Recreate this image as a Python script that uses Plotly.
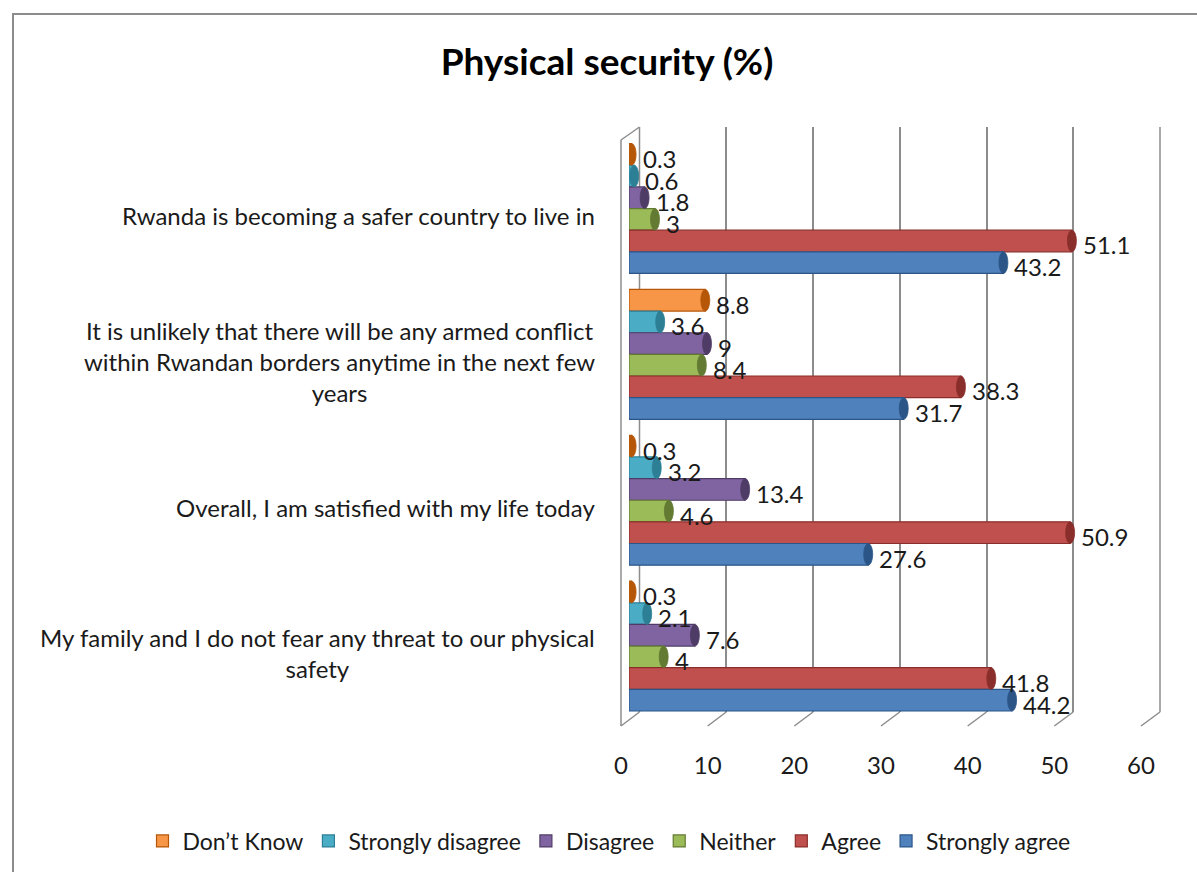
import plotly.graph_objects as go

# ---- data -------------------------------------------------------------
statements = [
    "Rwanda is becoming a safer country to live in",
    "It is unlikely that there will be any armed conflict<br>within Rwandan borders anytime in the next few<br>years",
    "Overall, I am satisfied with my life today",
    "My family and I do not fear any threat to our physical<br>safety",
]
series_names = ["Don\u2019t Know", "Strongly disagree", "Disagree", "Neither", "Agree", "Strongly agree"]
dont_know = [0.3, 8.8, 0.3, 0.3]
strongly_disagree = [0.6, 3.6, 3.2, 2.1]
disagree = [1.8, 9, 13.4, 7.6]
neither = [3, 8.4, 4.6, 4]
agree = [51.1, 38.3, 50.9, 41.8]
strongly_agree = [43.2, 31.7, 27.6, 44.2]
x_ticks = [0, 10, 20, 30, 40, 50, 60]

series_values = [dont_know, strongly_disagree, disagree, neither, agree, strongly_agree]
series_colors = ["#F79646", "#4BACC6", "#8064A2", "#9BBB59", "#C0504D", "#4F81BD"]
edge_colors = ["#B65708", "#2C7F95", "#4F3C66", "#637A33", "#8A2E2B", "#2B5587"]

# ---- canvas helpers (pixels -> paper fractions) ------------------------
W, H = 1197, 872
FONT = "Lato"
TXT = "#1a1a1a"


def px(x):
    return x / W


def py(y):
    return 1 - y / H


BAR_GAP = 0.11
n_series = len(series_values)
cat_index = list(range(len(statements)))

# bar value axis: pixel span used for the bars
BAR_X0, BAR_X60 = 629, 1149
CAP_HALF = 4.5 * (x_ticks[-1] - x_ticks[0]) / (BAR_X60 - BAR_X0)   # half cap width, data units

fig = go.Figure()

# back wall of the 3-D box: carries the vertical gridlines
fig.add_trace(go.Scatter(x=[x_ticks[0], x_ticks[-1]], y=[0.5, 0.5], xaxis="x", yaxis="y",
                         mode="markers", marker=dict(size=0, opacity=0),
                         hoverinfo="skip", showlegend=False))

# the bars themselves
for name, vals, col, edge in zip(series_names, series_values, series_colors, edge_colors):
    fig.add_trace(go.Bar(
        name=name, x=vals, y=cat_index, orientation="h",
        xaxis="x2", yaxis="y2",
        marker=dict(color=col, line=dict(color=edge, width=1.2)),
        hovertemplate="%{x}<extra>" + name + "</extra>",
    ))

# front edge of the floor: carries the value tick labels
fig.add_trace(go.Scatter(x=[x_ticks[0], x_ticks[-1]], y=[0.5, 0.5], xaxis="x3", yaxis="y",
                         mode="markers", marker=dict(size=0, opacity=0),
                         hoverinfo="skip", showlegend=False))

annotations = []
shapes = []
slot = (1 - BAR_GAP) / n_series
for k, (vals, edge) in enumerate(zip(series_values, edge_colors)):
    off = -(1 - BAR_GAP) / 2 + (k + 0.5) * slot
    for i, v in enumerate(vals):
        # rounded cylinder end cap
        shapes.append(dict(
            type="circle", xref="x2", yref="y2",
            x0=v - CAP_HALF, x1=v + CAP_HALF,
            y0=i + off - slot / 2, y1=i + off + slot / 2,
            fillcolor=edge, line=dict(color=edge, width=0.8), layer="above"))
        # value label
        annotations.append(dict(
            x=v, y=i + off, xref="x2", yref="y2", text=f"{v:g}",
            showarrow=False, xanchor="left", yanchor="middle",
            xshift=9, yshift=-4, font=dict(family=FONT, size=24, color=TXT),
        ))

# statement labels to the left of the box
for i, s in enumerate(statements):
    annotations.append(dict(
        x=px(597), y=i, xref="paper", yref="y2", text=s, showarrow=False,
        xanchor="right", yanchor="middle", align="center", yshift=-7,
        font=dict(family=FONT, size=24, color=TXT),
    ))

# ---- box geometry (front floor edge, back wall) -----------------------
FRONT_L, FRONT_R, FRONT_Y = 621, 1141, 726
BACK_L, BACK_R, BACK_Y, BACK_TOP = 639.5, 1160, 712, 127
WALL_FRONT_TOP = 140
line_style = dict(color="#8c8c8c", width=1.5)

shapes += [
    # chart frame
    dict(type="rect", xref="paper", yref="paper", x0=px(13), y0=-0.02, x1=1.02, y1=py(14),
         line=dict(color="#8c8c8c", width=2), layer="below"),
    # left wall: front edge and top edge
    dict(type="line", xref="paper", yref="paper", x0=px(FRONT_L), y0=py(FRONT_Y),
         x1=px(FRONT_L), y1=py(WALL_FRONT_TOP), line=line_style, layer="below"),
    dict(type="line", xref="paper", yref="paper", x0=px(FRONT_L), y0=py(WALL_FRONT_TOP),
         x1=px(BACK_L), y1=py(BACK_TOP), line=line_style, layer="below"),
    # back wall edges at both ends of the value range
    dict(type="line", xref="paper", yref="paper", x0=px(BACK_L), y0=py(BACK_Y),
         x1=px(BACK_L), y1=py(BACK_TOP), line=line_style, layer="below"),
    dict(type="line", xref="paper", yref="paper", x0=px(BACK_R), y0=py(BACK_Y),
         x1=px(BACK_R), y1=py(BACK_TOP), line=line_style, layer="below"),
]
# floor ticks running from the front edge back to the wall
span = x_ticks[-1] - x_ticks[0]
for t in x_ticks:
    f = (t - x_ticks[0]) / span
    shapes.append(dict(
        type="line", xref="paper", yref="paper",
        x0=px(FRONT_L + f * (FRONT_R - FRONT_L)), y0=py(FRONT_Y),
        x1=px(BACK_L + f * (BACK_R - BACK_L)), y1=py(BACK_Y),
        line=line_style, layer="below"))

fig.update_layout(
    width=W, height=H,
    margin=dict(l=0, r=0, t=0, b=0, autoexpand=False),
    paper_bgcolor="white", plot_bgcolor="rgba(0,0,0,0)",
    barmode="group", bargap=BAR_GAP, bargroupgap=0,
    title=dict(text="<b>Physical security (%)</b>", x=px(607), y=py(62),
               xanchor="center", yanchor="middle",
               font=dict(family=FONT, size=37, color="#000000")),
    xaxis=dict(domain=[px(BACK_L), px(BACK_R)], range=[x_ticks[0], x_ticks[-1]],
               tickvals=x_ticks, showgrid=True, gridcolor="#8c8c8c", gridwidth=1.5,
               zeroline=False, showticklabels=False, showline=False, anchor="y", fixedrange=True),
    yaxis=dict(domain=[py(BACK_Y), py(BACK_TOP)], range=[0, 1], visible=False, fixedrange=True),
    xaxis2=dict(domain=[px(BAR_X0), px(BAR_X60)], range=[x_ticks[0], x_ticks[-1]], anchor="y2",
                showgrid=False, zeroline=False, showticklabels=False, showline=False, fixedrange=True),
    yaxis2=dict(domain=[py(719), py(135.6)], range=[len(statements) - 0.5, -0.5],
                anchor="x2", showgrid=False, zeroline=False, showticklabels=False,
                showline=False, fixedrange=True),
    xaxis3=dict(domain=[px(FRONT_L), px(FRONT_R)], range=[x_ticks[0], x_ticks[-1]],
                tickvals=x_ticks, anchor="free", position=py(749), showgrid=False,
                zeroline=False, showline=False, ticks="",
                tickfont=dict(family=FONT, size=24, color=TXT), fixedrange=True),
    legend=dict(orientation="h", x=px(609), xanchor="center", y=py(841), yanchor="middle",
                font=dict(family=FONT, size=23, color=TXT), bgcolor="rgba(0,0,0,0)",
                traceorder="normal"),
    annotations=annotations,
    shapes=shapes,
)

fig.write_html("out.html")
